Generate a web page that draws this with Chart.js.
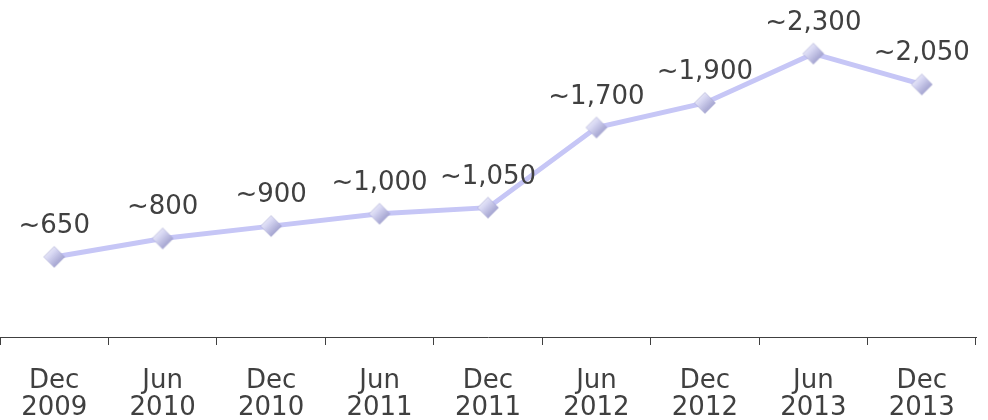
<!DOCTYPE html>
<html>
<head>
<meta charset="utf-8">
<script src="https://cdn.jsdelivr.net/npm/chart.js@4.4.0/dist/chart.umd.min.js"></script>
<style>
html,body{margin:0;padding:0;background:#fff;}
#wrap{width:988px;height:420px;position:relative;}
</style>
</head>
<body>
<div id="wrap"><canvas id="c" width="988" height="420"></canvas></div>
<script>
const categories = [["Dec","2009"],["Jun","2010"],["Dec","2010"],["Jun","2011"],["Dec","2011"],["Jun","2012"],["Dec","2012"],["Jun","2013"],["Dec","2013"]];
const values = [650, 800, 900, 1000, 1050, 1700, 1900, 2300, 2050];
const valueLabels = ["~650","~800","~900","~1,000","~1,050","~1,700","~1,900","~2,300","~2,050"];

function makeMarker(){
  const s = 24, c = document.createElement('canvas');
  c.width = s; c.height = s;
  const g = c.getContext('2d');
  const m = s/2, r = 10.5;
  const grad = g.createLinearGradient(m - r, m - r, m + r*0.7, m + r*0.7);
  grad.addColorStop(0, '#ffffff');
  grad.addColorStop(0.45, '#d6d6f2');
  grad.addColorStop(1, '#9898c8');
  g.beginPath();
  g.moveTo(m, m - r); g.lineTo(m + r, m); g.lineTo(m, m + r); g.lineTo(m - r, m); g.closePath();
  g.fillStyle = grad; g.fill();
  g.strokeStyle = 'rgba(160,160,205,0.5)'; g.lineWidth = 1; g.stroke();
  return c;
}
const marker = makeMarker();

const labelPlugin = {
  id: 'valueLabels',
  afterDatasetsDraw(chart){
    const ctx = chart.ctx;
    const meta = chart.getDatasetMeta(0);
    ctx.save();
    ctx.font = '26px "DejaVu Sans", Verdana, sans-serif';
    ctx.fillStyle = '#404040';
    ctx.textAlign = 'center';
    ctx.textBaseline = 'alphabetic';
    meta.data.forEach((pt, i) => {
      ctx.fillText(valueLabels[i], pt.x, pt.y - 24);
    });
    ctx.restore();
  }
};

new Chart(document.getElementById('c'), {
  type: 'line',
  data: {
    labels: categories,
    datasets: [{
      data: values,
      borderColor: '#c6c6f6',
      borderWidth: 5,
      tension: 0,
      pointStyle: marker,
      pointRadius: 10,
      pointHoverRadius: 10,
      clip: false
    }]
  },
  options: {
    responsive: false,
    animation: false,
    layout: { autoPadding: false, padding: { left: 0, right: 12, top: 29, bottom: 0 } },
    plugins: { legend: { display: false }, tooltip: { enabled: false } },
    scales: {
      x: {
        offset: true,
        grid: { offset: true, drawOnChartArea: false, drawTicks: true, tickLength: 8, color: '#404040', lineWidth: 1 },
        border: { display: true, color: '#404040', width: 1 },
        ticks: { color: '#404040', font: { family: '"DejaVu Sans", Verdana, sans-serif', size: 26, lineHeight: 1.06 }, padding: 22, maxRotation: 0, autoSkip: false },
        afterFit(scale){ scale.height = 83; scale.paddingLeft = 0; scale.paddingRight = 0; }
      },
      y: {
        display: false,
        min: 0,
        max: 2500
      }
    }
  },
  plugins: [labelPlugin]
});
</script>
</body>
</html>
